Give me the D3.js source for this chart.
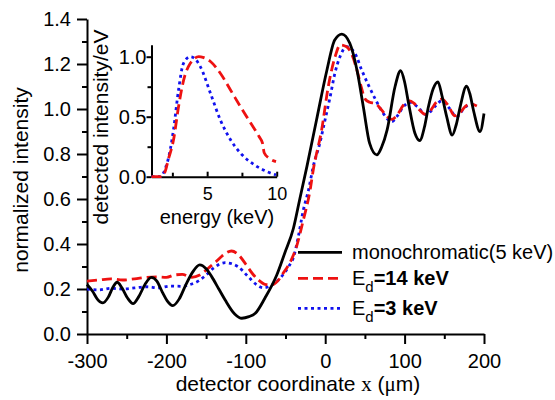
<!DOCTYPE html>
<html>
<head>
<meta charset="utf-8">
<script src="https://cdn.jsdelivr.net/npm/d3@7"></script>
<style>
  body { margin: 0; background: #fff; }
  svg { display: block; }
  text { font-family: Arial, "Liberation Sans", Helvetica, sans-serif; fill: #000; }
</style>
</head>
<body>
<svg id="chart" width="555" height="400"></svg>
<script>
// main plot: detector coordinate x (um) -> normalized intensity
const mono = [[-300,0.22],[-293,0.19],[-287,0.155],[-280,0.138],[-273,0.165],[-267,0.21],[-262,0.23],
  [-256,0.205],[-249,0.16],[-242,0.135],[-235,0.165],[-227,0.22],[-219,0.252],[-212,0.235],[-205,0.185],
  [-199,0.147],[-192,0.126],[-184,0.155],[-176,0.215],[-167,0.275],[-158,0.307],[-150,0.29],[-143,0.255],
  [-134,0.2],[-126,0.151],[-114,0.089],[-105,0.07],[-96,0.077],[-88,0.092],[-76,0.159],[-61,0.262],
  [-51,0.359],[-40,0.47],[-32,0.6],[-23,0.745],[-11,0.95],[2,1.17],[12,1.307],[21,1.333],[31,1.292],
  [40,1.173],[48,1.01],[56,0.847],[65,0.796],[71,0.83],[78,0.907],[88,1.1],[95,1.17],[100,1.12],
  [105,1.025],[113,0.892],[119,0.86],[125,0.92],[130,1.01],[136,1.09],[142,1.121],[147,1.06],[153,0.966],
  [160,0.884],[165,0.93],[170,1.01],[178,1.102],[182,1.07],[187,0.99],[195,0.9],[200,0.98]];

const ed14 = [[-300,0.235],[-285,0.24],[-270,0.245],[-255,0.24],[-240,0.245],[-225,0.252],[-212,0.254],
  [-200,0.252],[-190,0.262],[-180,0.265],[-168,0.252],[-158,0.262],[-148,0.29],[-138,0.32],[-128,0.352],
  [-118,0.369],[-109,0.351],[-100,0.31],[-92,0.27],[-84,0.24],[-76,0.221],[-67,0.218],[-60,0.235],
  [-53,0.27],[-44,0.32],[-36,0.39],[-28,0.5],[-19,0.64],[-15,0.73],[-4.5,0.907],[3.9,1.1],[12.3,1.23],
  [19,1.285],[27,1.277],[33,1.247],[41.7,1.15],[46,1.09],[50,1.045],[56,1.03],[63,1.025],[70,1.0],
  [77,0.97],[84,0.954],[91,0.975],[98,1.015],[105,1.037],[112,1.025],[119,0.995],[126,0.976],[133,0.995],
  [140,1.03],[147,1.044],[155,1.015],[163,0.97],[170,0.985],[177,1.013],[183,1.022],[191,1.013]];

const ed3 = [[-300,0.2],[-285,0.196],[-270,0.203],[-255,0.2],[-240,0.205],[-225,0.21],[-210,0.205],
  [-195,0.213],[-180,0.212],[-170,0.22],[-160,0.235],[-150,0.262],[-140,0.295],[-126,0.317],[-110,0.3],
  [-97,0.255],[-86,0.218],[-78,0.205],[-67,0.218],[-55,0.255],[-46,0.3],[-40,0.34],[-34,0.43],
  [-27.6,0.55],[-21,0.64],[-15,0.745],[-6.6,0.85],[-0.3,0.95],[6,1.05],[12.3,1.16],[18.6,1.232],
  [27,1.277],[37.5,1.247],[46,1.173],[54.3,1.107],[64.9,1.032],[73.2,0.98],[83.8,0.944],[91,0.97],
  [98.5,1.01],[107,1.03],[116,1.01],[127,0.975],[138,1.01],[147,1.037],[156,1.005],[165.5,0.966],
  [176,1.008],[184,1.02],[190,1.015]];

// inset: energy (keV) -> detected intensity/eV
const spec14 = [[1,0],[1.7,0],[2.0,0.05],[2.2,0.14],[2.58,0.305],[2.94,0.58],[3.3,0.8],[3.79,0.945],
  [4.4,1.0],[4.7,0.995],[5.24,0.96],[5.96,0.86],[6.69,0.72],[7.41,0.58],[8.14,0.445],[8.74,0.333],
  [8.98,0.28],[9.1,0.2],[9.46,0.153],[9.95,0.125]];
const spec3 = [[1,0],[1.6,0],[2.0,0.07],[2.34,0.22],[2.58,0.39],[2.94,0.72],[3.3,0.945],[3.79,1.0],
  [4.1,0.985],[4.5,0.92],[5.24,0.695],[5.96,0.47],[6.69,0.306],[7.41,0.195],[8.38,0.1],[9.35,0.04],
  [9.95,0.015]];

const xTicks = [-300, -200, -100, 0, 100, 200];
const xMinor = [-250, -150, -50, 50, 150];
const yTicks = [0, 0.2, 0.4, 0.6, 0.8, 1.0, 1.2, 1.4];
const yMinor = [0.1, 0.3, 0.5, 0.7, 0.9, 1.1, 1.3];
const eTicks = [5, 10];
const eMinor = [2.5, 7.5];
const sTicks = [0, 0.5, 1.0];
const sMinor = [0.25, 0.75];

const svg = d3.select("#chart");
const TICK_FONT = 20;
const TITLE_FONT = 21;
const LEGEND_FONT = 20;
const INSET_TICK_FONT = 18;
const INSET_TITLE_FONT = 20;

const x = d3.scaleLinear().domain([-300, 200]).range([87, 484]);
const y = d3.scaleLinear().domain([0, 1.4]).range([334, 19]);

const ex = d3.scaleLinear().domain([1, 10]).range([151.5, 276.7]);
const ey = d3.scaleLinear().domain([0, 1.1]).range([176.7, 44.7]);

const styles = {
  mono: { color: "#000", dash: null, width: 2.8 },
  ed14: { color: "#ee1111", dash: "10,5", width: 2.8 },
  ed3:  { color: "#1111ee", dash: "3,3.5", width: 2.8 }
};

// plain hyphen for negatives, like the original
const intFmt = d => String(d);

function styleAxis(g, size) {
  g.select(".domain").attr("stroke-width", 2);
  g.selectAll(".tick line").attr("stroke-width", 2);
  g.selectAll(".tick text").style("font-size", size + "px").attr("fill", "#000");
}

// main axes
const gx = svg.append("g").attr("transform", "translate(0,334)")
  .call(d3.axisBottom(x).tickValues(xTicks).tickFormat(intFmt)
    .tickSize(10).tickSizeOuter(0).tickPadding(10));
styleAxis(gx, TICK_FONT);
const gxm = svg.append("g").attr("transform", "translate(0,334)")
  .call(d3.axisBottom(x).tickValues(xMinor).tickFormat("").tickSize(5).tickSizeOuter(0));
gxm.select(".domain").remove();
gxm.selectAll(".tick line").attr("stroke-width", 2);

const gy = svg.append("g").attr("transform", "translate(87,0)")
  .call(d3.axisLeft(y).tickValues(yTicks).tickFormat(d3.format(".1f"))
    .tickSize(10).tickSizeOuter(0).tickPadding(6));
styleAxis(gy, TICK_FONT);
const gym = svg.append("g").attr("transform", "translate(87,0)")
  .call(d3.axisLeft(y).tickValues(yMinor).tickFormat("").tickSize(5).tickSizeOuter(0));
gym.select(".domain").remove();
gym.selectAll(".tick line").attr("stroke-width", 2);

// main curves
const line = d3.line().x(d => x(d[0])).y(d => y(d[1])).curve(d3.curveMonotoneX);
const series = { mono: mono, ed14: ed14, ed3: ed3 };
for (const key of ["ed3", "ed14", "mono"]) {
  svg.append("path")
    .attr("d", line(series[key]))
    .attr("fill", "none")
    .attr("stroke", styles[key].color)
    .attr("stroke-width", styles[key].width)
    .attr("stroke-dasharray", styles[key].dash);
}

// main axis titles
const xt = svg.append("text")
  .attr("x", 298).attr("y", 391)
  .attr("text-anchor", "middle")
  .style("font-size", TITLE_FONT + "px");
xt.append("tspan").text("detector coordinate ");
xt.append("tspan").style("font-family", "'Liberation Serif', 'Times New Roman', serif").text("x");
xt.append("tspan").text(" (");
xt.append("tspan").style("font-family", "'Liberation Serif', 'Times New Roman', serif").text("μ");
xt.append("tspan").text("m)");

svg.append("text")
  .attr("transform", "translate(28,180) rotate(-90)")
  .attr("text-anchor", "middle")
  .style("font-size", TITLE_FONT + "px")
  .text("normalized intensity");

// inset axes
const gex = svg.append("g").attr("transform", `translate(0,${ey(0)})`)
  .call(d3.axisBottom(ex).tickValues(eTicks).tickFormat(intFmt)
    .tickSize(-5).tickSizeOuter(0).tickPadding(11));
styleAxis(gex, INSET_TICK_FONT);
const gexm = svg.append("g").attr("transform", `translate(0,${ey(0)})`)
  .call(d3.axisBottom(ex).tickValues(eMinor).tickFormat("").tickSize(-4).tickSizeOuter(0));
gexm.select(".domain").remove();
gexm.selectAll(".tick line").attr("stroke-width", 2);

const gey = svg.append("g").attr("transform", `translate(${ex(1)},0)`)
  .call(d3.axisLeft(ey).tickValues(sTicks).tickFormat(d3.format(".1f"))
    .tickSize(5).tickSizeOuter(0).tickPadding(0));
styleAxis(gey, TICK_FONT);
const geym = svg.append("g").attr("transform", `translate(${ex(1)},0)`)
  .call(d3.axisLeft(ey).tickValues(sMinor).tickFormat("").tickSize(4).tickSizeOuter(0));
geym.select(".domain").remove();
geym.selectAll(".tick line").attr("stroke-width", 2);

const iline = d3.line().x(d => ex(d[0])).y(d => ey(d[1])).curve(d3.curveMonotoneX);
const specs = { ed14: spec14, ed3: spec3 };
for (const key of ["ed3", "ed14"]) {
  svg.append("path")
    .attr("d", iline(specs[key]))
    .attr("fill", "none")
    .attr("stroke", styles[key].color)
    .attr("stroke-width", styles[key].width)
    .attr("stroke-dasharray", styles[key].dash);
}

svg.append("text")
  .attr("x", 217).attr("y", 224)
  .attr("text-anchor", "middle")
  .style("font-size", INSET_TITLE_FONT + "px")
  .text("energy (keV)");

svg.append("text")
  .attr("transform", "translate(108,127) rotate(-90)")
  .attr("text-anchor", "middle")
  .style("font-size", TITLE_FONT + "px")
  .text("detected intensity/eV");

// legend
const legendRows = [
  { key: "mono", ly: 252.3, ty: 258.8, label: "monochromatic(5 keV)" },
  { key: "ed14", ly: 278.3, ty: 284.8, label: "=14 keV" },
  { key: "ed3",  ly: 308.3, ty: 314.8, label: "=3 keV" }
];
legendRows.forEach(r => {
  svg.append("line")
    .attr("x1", 298).attr("x2", 342)
    .attr("y1", r.ly).attr("y2", r.ly)
    .attr("stroke", styles[r.key].color)
    .attr("stroke-width", styles[r.key].width)
    .attr("stroke-dasharray", styles[r.key].dash);
  const t = svg.append("text").attr("x", 352).attr("y", r.ty).style("font-size", LEGEND_FONT + "px");
  if (r.key === "mono") {
    t.text(r.label);
  } else {
    t.style("font-weight", "bold");
    t.append("tspan").style("font-weight", "normal").text("E");
    t.append("tspan").attr("dy", 7).style("font-size", "15px").style("font-weight", "normal").text("d");
    t.append("tspan").attr("dy", -7).text(r.label);
  }
});
</script>
</body>
</html>
